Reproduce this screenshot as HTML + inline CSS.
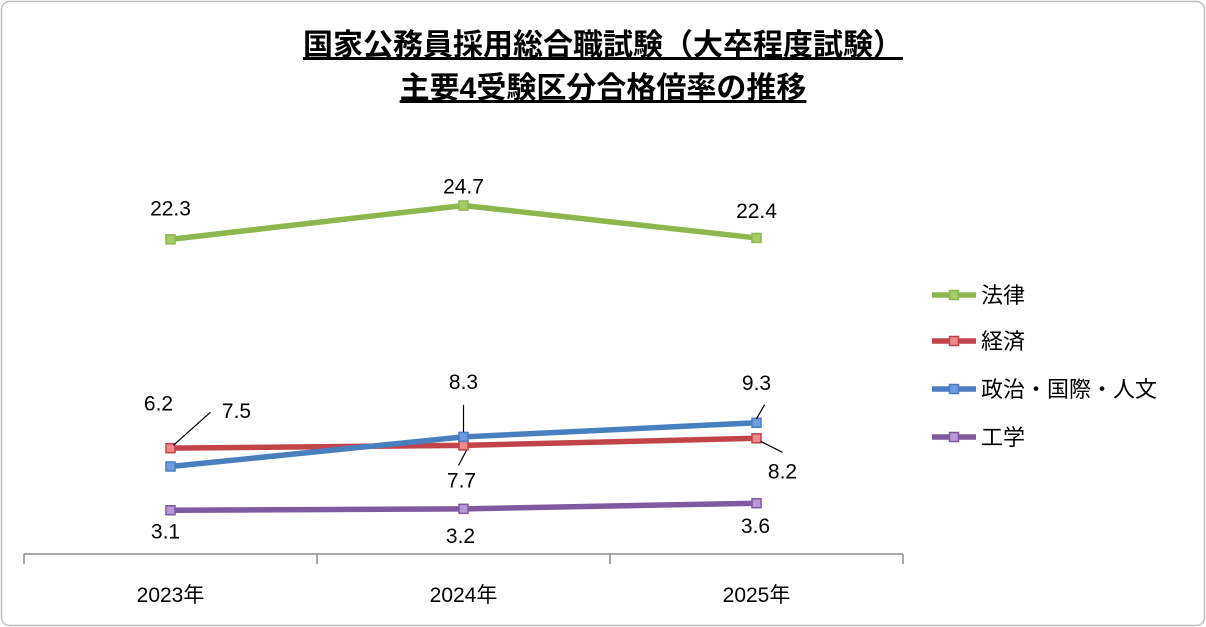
<!DOCTYPE html>
<html><head><meta charset="utf-8">
<style>
html,body{margin:0;padding:0;background:#fff;}
svg{display:block;font-family:"Liberation Sans","Noto Sans CJK JP",sans-serif;}
</style></head>
<body>
<svg id="chart" width="1206" height="627" viewBox="0 0 1206 627">
<rect x="1.5" y="1.5" width="1203" height="624" rx="8" fill="#fff" stroke="#bfbfbf" stroke-width="1.5"/>
<text x="603" y="55" text-anchor="middle" font-size="30" font-weight="bold" text-decoration="underline" fill="#000">国家公務員採用総合職試験（大卒程度試験）</text>
<text x="603" y="98" text-anchor="middle" font-size="30" font-weight="bold" text-decoration="underline" fill="#000">主要4受験区分合格倍率の推移</text>
<g id="axis"></g>
<g id="series"></g>
<g id="labels"></g>
<g id="legend"></g>
</svg>
<script>
const categories = ["2023年","2024年","2025年"];
const seriesNames = ["法律","経済","政治・国際・人文","工学"];
const lawValues = [22.3,24.7,22.4];
const econValues = [7.5,7.7,8.2];
const polValues = [6.2,8.3,9.3];
const engValues = [3.1,3.2,3.6];
const lineColors = ["#8db64c","#c0444a","#4a7fbf","#7f5aa0"];
const fillColors = ["#a6cc66","#f08a8a","#6d9be0","#b89ad8"];

const NS="http://www.w3.org/2000/svg";
const x0=24,x1=903,y0=554;
const band=(x1-x0)/categories.length;
const xS=i=>x0+band*(i+0.5);
const yS=v=>y0-v*14.11;
function mk(tag,attrs,parent){const e=document.createElementNS(NS,tag);for(const k in attrs)e.setAttribute(k,attrs[k]);parent.appendChild(e);return e;}

const axis=document.getElementById('axis');
const al=mk('line',{x1:x0,y1:y0,x2:x1,y2:y0,stroke:'#8c8c8c','stroke-width':1.5},axis);


for(let i=0;i<=categories.length;i++){
  const t=mk('line',{x1:x0+band*i,y1:y0,x2:x0+band*i,y2:y0+10,stroke:'#8c8c8c','stroke-width':1.5},axis);
  
  
}
categories.forEach((c,i)=>{
  const t=mk('text',{x:xS(i),y:602,'text-anchor':'middle','font-size':21,fill:'#000'},axis);
  t.textContent=c;
  
  
});

const allSeries=[lawValues,econValues,polValues,engValues];
const sg=document.getElementById('series');
allSeries.forEach((vals,s)=>{
  const pts=vals.map((v,i)=>xS(i)+','+yS(v)).join(' ');
  const pl=mk('polyline',{points:pts,fill:'none',stroke:lineColors[s],'stroke-width':5.5,'stroke-linejoin':'round'},sg);
  
  
  vals.forEach((v,i)=>{
    const m=mk('rect',{x:xS(i)-4.5,y:yS(v)-4.5,width:9,height:9,fill:fillColors[s],stroke:lineColors[s],'stroke-width':1.5},sg);
    
    
  });
});

const lg=document.getElementById('labels');
function label(txt,x,y){
  const t=mk('text',{x:x,y:y,'text-anchor':'middle','font-size':21,fill:'#000'},lg);
  t.textContent=txt;
  
  
}
function leader(xa,ya,xb,yb){
  const l=mk('line',{x1:xa,y1:ya,x2:xb,y2:yb,stroke:'#000','stroke-width':1.2},lg);
  
  
}
const lawOff=[-24,-12,-20];
lawValues.forEach((v,i)=>label(v.toFixed(1),xS(i),yS(v)+lawOff[i]));
const engOff=[28,34,30];
engValues.forEach((v,i)=>label(v.toFixed(1),xS(i)-5+i*2,yS(v)+engOff[i]));
// politics
label(polValues[0].toFixed(1),xS(0)-12,yS(polValues[0])-56);
label(polValues[1].toFixed(1),xS(1),yS(polValues[1])-48);
leader(xS(1),yS(polValues[1])-5,xS(1),yS(polValues[1])-32);
label(polValues[2].toFixed(1),xS(2),yS(polValues[2])-33);
leader(xS(2),yS(polValues[2])-4,xS(2)+8,yS(polValues[2])-18);
// economics
label(econValues[0].toFixed(1),xS(0)+66,yS(econValues[0])-30);
leader(xS(0)+3,yS(econValues[0])-3,xS(0)+40,yS(econValues[0])-36);
label(econValues[1].toFixed(1),xS(1)-2,yS(econValues[1])+42);
leader(xS(1)+3,yS(econValues[1])+5,xS(1)-5,yS(econValues[1])+20);
label(econValues[2].toFixed(1),xS(2)+26,yS(econValues[2])+40);
leader(xS(2)+4,yS(econValues[2])+3,xS(2)+26,yS(econValues[2])+14);

const leg=document.getElementById('legend');
const legY=[295,341,389,437];
seriesNames.forEach((n,s)=>{
  const g=mk('g',{},leg);
  
  
  mk('line',{x1:932,y1:legY[s],x2:976,y2:legY[s],stroke:lineColors[s],'stroke-width':5.5},g);
  mk('rect',{x:949.5,y:legY[s]-4.5,width:9,height:9,fill:fillColors[s],stroke:lineColors[s],'stroke-width':1.5},g);
  const t=mk('text',{x:981,y:legY[s]+8,'font-size':22,fill:'#000'},g);
  t.textContent=n;
});
</script>
</body></html>
